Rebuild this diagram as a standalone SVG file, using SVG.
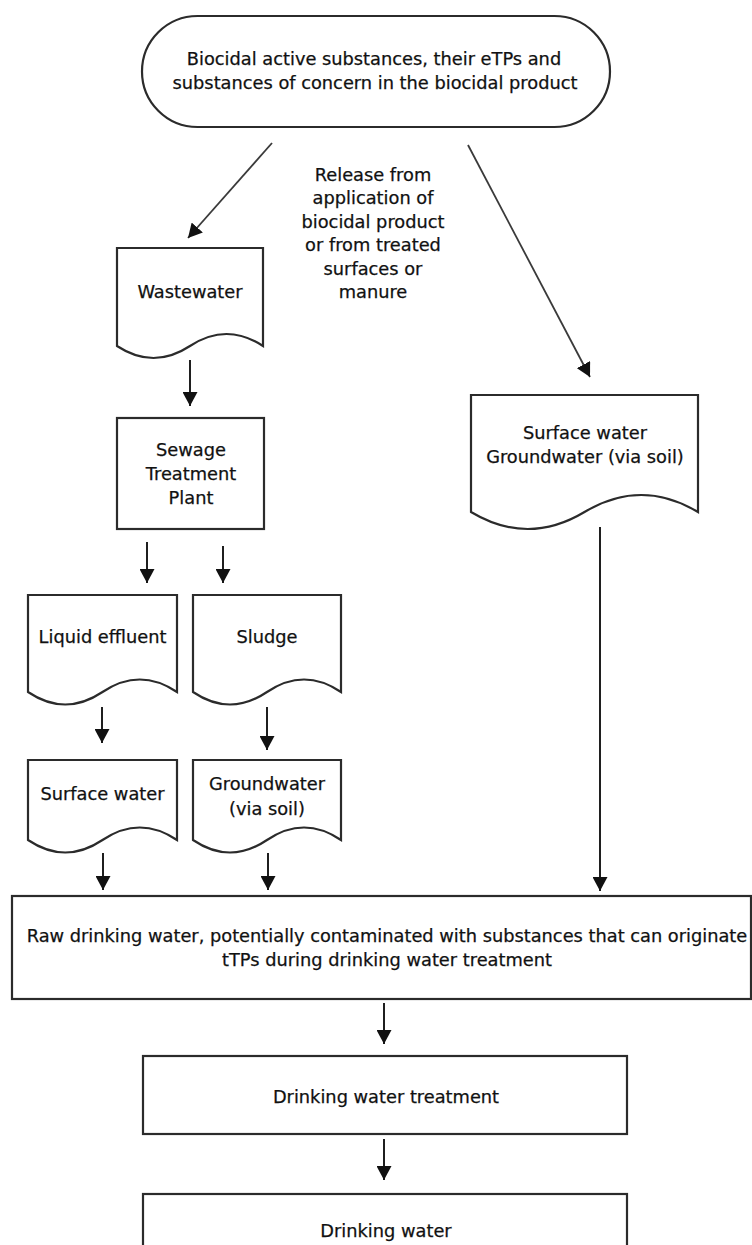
<svg xmlns="http://www.w3.org/2000/svg" width="752" height="1245" viewBox="0 0 752 1245">
<style>
.box{fill:#fff;stroke:#2b2b2b;stroke-width:2.2}
.t{font-family:"DejaVu Sans",Verdana,sans-serif;font-size:17.8px;fill:#111;stroke:#111;stroke-width:0.25;text-anchor:middle}
.c{fill:none;stroke:#1f1f1f;stroke-width:2}
.d{fill:none;stroke:#3a3a3a;stroke-width:1.8}
</style>
<defs>
<marker id="ah" markerUnits="userSpaceOnUse" markerWidth="15" markerHeight="15" refX="14" refY="7.5" orient="auto" viewBox="0 0 15 15">
<path d="M0,0 L14,7.5 L0,15 Z" fill="#111"/>
</marker>
</defs>
<rect width="752" height="1245" fill="#fff"/>
<g id="connectors">
<line class="d" x1="272" y1="143" x2="188" y2="238" marker-end="url(#ah)"/>
<line class="d" x1="468" y1="145" x2="590" y2="377" marker-end="url(#ah)"/>
<line class="c" x1="190" y1="360" x2="190" y2="406" marker-end="url(#ah)"/>
<line class="c" x1="147" y1="542" x2="147" y2="583" marker-end="url(#ah)"/>
<line class="c" x1="223" y1="546" x2="223" y2="583" marker-end="url(#ah)"/>
<line class="c" x1="102" y1="707" x2="102" y2="743" marker-end="url(#ah)"/>
<line class="c" x1="267" y1="707" x2="267" y2="750" marker-end="url(#ah)"/>
<line class="c" x1="103" y1="853" x2="103" y2="890" marker-end="url(#ah)"/>
<line class="c" x1="268" y1="853" x2="268" y2="890" marker-end="url(#ah)"/>
<line class="c" x1="600" y1="527" x2="600" y2="891" marker-end="url(#ah)"/>
<line class="c" x1="384" y1="1003" x2="384" y2="1044" marker-end="url(#ah)"/>
<line class="c" x1="384" y1="1139" x2="384" y2="1180" marker-end="url(#ah)"/>
</g>
<g id="source">
<rect class="box" x="142" y="16" width="468" height="111" rx="55.5" ry="55.5"/>
<text class="t" x="374" y="65">Biocidal active substances, their eTPs and</text>
<text class="t" x="375" y="89">substances of concern in the biocidal product</text>
</g>
<g id="release-label">
<text class="t" x="373" y="181">Release from</text>
<text class="t" x="373" y="204.4">application of</text>
<text class="t" x="373" y="227.8">biocidal product</text>
<text class="t" x="373" y="251.2">or from treated</text>
<text class="t" x="373" y="274.6">surfaces or</text>
<text class="t" x="373" y="298">manure</text>
</g>
<g id="wastewater">
<path class="box" d="M117,248 H263 V346 Q226.5,322 190,346 Q153.5,370 117,346 Z"/>
<text class="t" x="190" y="298">Wastewater</text>
</g>
<g id="stp">
<rect class="box" x="117" y="418" width="147" height="111"/>
<text class="t" x="191" y="456">Sewage</text>
<text class="t" x="191" y="480">Treatment</text>
<text class="t" x="191" y="504">Plant</text>
</g>
<g id="liquid-effluent">
<path class="box" d="M28,595 H177 V692 Q139.75,667 102.5,692 Q65.25,717 28,692 Z"/>
<text class="t" x="102.5" y="643">Liquid effluent</text>
</g>
<g id="sludge">
<path class="box" d="M193,595 H341 V692 Q304,667 267,692 Q230,717 193,692 Z"/>
<text class="t" x="267" y="643">Sludge</text>
</g>
<g id="surface-water">
<path class="box" d="M28,760 H177 V840 Q139.75,815 102.5,840 Q65.25,865 28,840 Z"/>
<text class="t" x="102.5" y="800">Surface water</text>
</g>
<g id="groundwater">
<path class="box" d="M193,760 H341 V840 Q304,815 267,840 Q230,865 193,840 Z"/>
<text class="t" x="267" y="790">Groundwater</text>
<text class="t" x="267" y="815">(via soil)</text>
</g>
<g id="surface-groundwater">
<path class="box" d="M471,395 H698 V512 Q641.25,478 584.5,512 Q527.75,546 471,512 Z"/>
<text class="t" x="585" y="439">Surface water</text>
<text class="t" x="585" y="463">Groundwater (via soil)</text>
</g>
<g id="raw-drinking-water">
<rect class="box" x="12" y="896" width="739" height="103"/>
<text class="t" x="387" y="942">Raw drinking water, potentially contaminated with substances that can originate</text>
<text class="t" x="387" y="966">tTPs during drinking water treatment</text>
</g>
<g id="dw-treatment">
<rect class="box" x="143" y="1056" width="484" height="78"/>
<text class="t" x="386" y="1103">Drinking water treatment</text>
</g>
<g id="drinking-water">
<rect class="box" x="143" y="1194" width="484" height="70"/>
<text class="t" x="386" y="1237">Drinking water</text>
</g>
</svg>
